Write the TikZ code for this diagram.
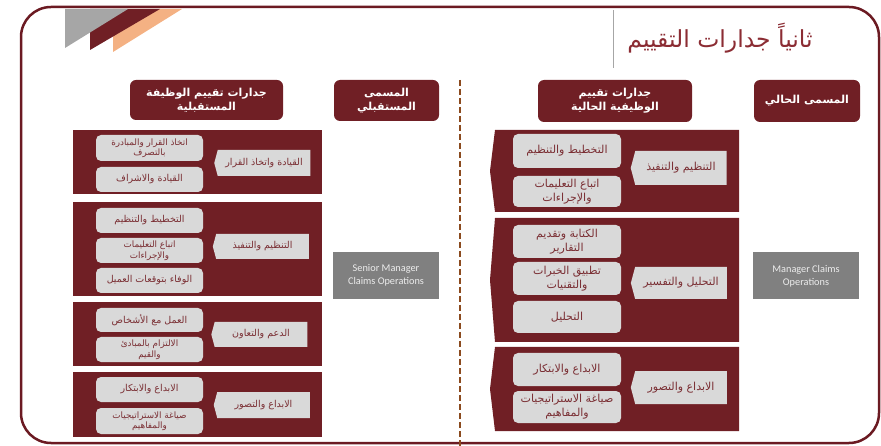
\documentclass[tikz,border=0pt]{standalone}
\usepackage{fontspec}
\usepackage{xcolor}
\usepackage{tikz}
\usetikzlibrary{
    shapes.symbols
}
\newfontfamily\arabicfont[Script=Arabic]{DejaVu Sans}
\newfontfamily\latinfont{Carlito}
\TeXXeTstate=1
\newcommand{\rtl}[1]{\beginR #1\endR}
\definecolor{wine}{HTML}{701F25}
\definecolor{framecol}{HTML}{6B1A22}
\definecolor{lightbox}{HTML}{D9D9D9}
\definecolor{subtext}{HTML}{7A2E33}
\definecolor{namegray}{HTML}{808080}
\definecolor{nametext}{HTML}{EDEDED}
\definecolor{stripegray}{HTML}{A6A6A6}
\definecolor{peach}{HTML}{F4B183}
\definecolor{titlecol}{HTML}{8B2C33}
\definecolor{dashcol}{HTML}{8B4A1E}

\begin{document}
\begin{tikzpicture}[x=1pt, y=-1pt,
    headbox/.style={fill=wine, rounded corners=6pt, text=white, align=center, inner sep=0pt,
        font=\arabicfont\bfseries\fontsize{11}{14}\selectfont},
    subbox/.style={fill=lightbox, rounded corners=5pt, text=subtext, align=center, inner sep=0pt},
    catbox/.style={signal, signal to=west, signal pointer angle=150, fill=lightbox, text=subtext,
        align=center, inner sep=0pt, minimum width=96pt},
    lefttext/.style={font=\arabicfont\fontsize{9.5}{12}\selectfont},
    lefttwo/.style={font=\arabicfont\fontsize{8.8}{10.5}\selectfont},
    righttext/.style={font=\arabicfont\fontsize{11}{14}\selectfont},
    namebox/.style={fill=namegray, text=nametext, align=center, inner sep=0pt,
        minimum width=106pt, minimum height=47pt, font=\latinfont\fontsize{10.3}{13}\selectfont}
    ]
    \useasboundingbox (0,0) rectangle (881,446);
    \draw[framecol, line width=2.5pt, rounded corners=30pt] (21,7) rectangle (879,443);

    \fill[peach] (113,9) -- (182,9) -- (113,52) -- cycle;
    \fill[wine] (90,9) -- (160,9) -- (90,50) -- cycle;
    \fill[stripegray] (65,9) -- (128,9) -- (65,48) -- cycle;

    \draw[gray!70, line width=0.8pt] (613,10) -- (613,68);
    \node[text=titlecol, font=\arabicfont\fontsize{23.5}{26}\selectfont] (title) at (720,38) {\rtl{ثانياً جدارات التقييم}};

    \draw[dashcol, line width=1.3pt, dash pattern=on 6pt off 3pt] (460,80) -- (460,446);

    \node[headbox, minimum width=153pt, minimum height=40pt] (futurecomp) at (206.5,100) {\rtl{جدارات تقييم الوظيفة}\\\rtl{المستقبلية}};
    \node[headbox, minimum width=105pt, minimum height=41pt] (futuretitle) at (386.5,100.5) {\rtl{المسمى}\\\rtl{المستقبلي}};
    \node[headbox, minimum width=154pt, minimum height=42pt] (currentcomp) at (615,101) {\rtl{جدارات تقييم}\\\rtl{الوظيفية الحالية}};
    \node[headbox, minimum width=106pt, minimum height=42pt] (currenttitle) at (807,101) {\rtl{المسمى الحالي}};

    \node[namebox] (futurename) at (386,275.5) {Senior Manager\\Claims Operations};
    \node[namebox] (currentname) at (806,276) {Manager Claims\\Operations};

    \fill[wine] (73,130) rectangle (322,194);
    \fill[wine] (73,202) rectangle (322,296);
    \fill[wine] (73,302) rectangle (322,366);
    \fill[wine] (73,372) rectangle (322,437);

    \begin{scope}[lefttext]
        \node[subbox, lefttwo, minimum width=107pt, minimum height=26pt] (lead1) at (149.5,148) {\rtl{اتخاذ القرار والمبادرة}\\\rtl{بالتصرف}};
        \node[subbox, minimum width=107pt, minimum height=25pt] (lead2) at (149.5,179.5) {\rtl{القيادة والاشراف}};
        \node[catbox, minimum height=26pt] (lead) at (264,163) {\rtl{القيادة واتخاذ القرار}};

        \node[subbox, minimum width=107pt, minimum height=25pt] (org1) at (149.5,220.5) {\rtl{التخطيط والتنظيم}};
        \node[subbox, lefttwo, minimum width=107pt, minimum height=25pt] (org2) at (149.5,250.5) {\rtl{اتباع التعليمات}\\\rtl{والإجراءات}};
        \node[subbox, minimum width=107pt, minimum height=25pt] (org3) at (149.5,280.5) {\rtl{الوفاء بتوقعات العميل}};
        \node[catbox, minimum height=25pt] (org) at (262.5,246.5) {\rtl{التنظيم والتنفيذ}};

        \node[subbox, minimum width=107pt, minimum height=24pt] (sup1) at (149.5,320) {\rtl{العمل مع الأشخاص}};
        \node[subbox, lefttwo, minimum width=107pt, minimum height=25pt] (sup2) at (149.5,349.5) {\rtl{الالتزام بالمبادئ}\\\rtl{والقيم}};
        \node[catbox, minimum height=25pt] (sup) at (261,334.5) {\rtl{الدعم والتعاون}};

        \node[subbox, minimum width=107pt, minimum height=25pt] (inv1) at (149.5,389.5) {\rtl{الابداع والابتكار}};
        \node[subbox, lefttwo, minimum width=107pt, minimum height=26pt] (inv2) at (149.5,421) {\rtl{صياغة الاستراتيجيات}\\\rtl{والمفاهيم}};
        \node[catbox, minimum height=26pt] (inv) at (263.5,405) {\rtl{الابداع والتصور}};
    \end{scope}

    \fill[wine] (739,130) -- (495,130) -- (490,171) -- (495,212) -- (739,212) -- cycle;
    \fill[wine] (739,218) -- (495,218) -- (490,280) -- (495,342) -- (739,342) -- cycle;
    \fill[wine] (739,347) -- (495,347) -- (490,389) -- (495,431) -- (739,431) -- cycle;

    \begin{scope}[righttext]
        \node[subbox, minimum width=108pt, minimum height=34pt] (curorg1) at (567,151) {\rtl{التخطيط والتنظيم}};
        \node[subbox, minimum width=108pt, minimum height=31pt] (curorg2) at (567,191.5) {\rtl{اتباع التعليمات}\\\rtl{والإجراءات}};
        \node[catbox, minimum height=34pt] (curorg) at (681,168) {\rtl{التنظيم والتنفيذ}};

        \node[subbox, minimum width=108pt, minimum height=33pt] (ana1) at (567,241.5) {\rtl{الكتابة وتقديم}\\\rtl{التقارير}};
        \node[subbox, minimum width=108pt, minimum height=33pt] (ana2) at (567,278.5) {\rtl{تطبيق الخبرات}\\\rtl{والتقنيات}};
        \node[subbox, minimum width=108pt, minimum height=32pt] (ana3) at (567,317) {\rtl{التحليل}};
        \node[catbox, minimum height=32pt] (ana) at (681,283) {\rtl{التحليل والتفسير}};

        \node[subbox, minimum width=108pt, minimum height=33pt] (curinv1) at (567,369.5) {\rtl{الابداع والابتكار}};
        \node[subbox, minimum width=108pt, minimum height=32pt] (curinv2) at (567,407) {\rtl{صياغة الاستراتيجيات}\\\rtl{والمفاهيم}};
        \node[catbox, minimum height=33pt] (curinv) at (681,387.5) {\rtl{الابداع والتصور}};
    \end{scope}
\end{tikzpicture}
\end{document}
